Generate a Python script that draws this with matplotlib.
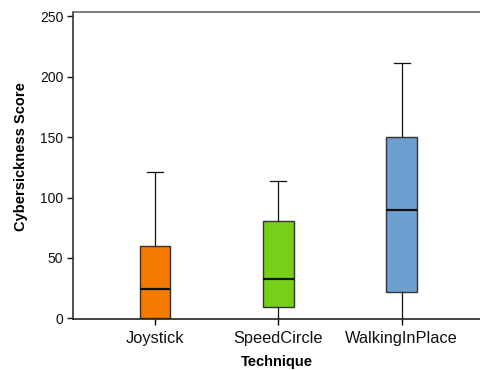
import matplotlib
matplotlib.use("Agg")
import matplotlib.pyplot as plt

plt.rcParams['font.family'] = ['Liberation Sans', 'DejaVu Sans']

categories = ["Joystick", "SpeedCircle", "WalkingInPlace"]
whisker_low = [0, 0, 0]
q1 = [0, 9.5, 21.5]
median = [24.5, 33, 89.5]
q3 = [60, 80.5, 150]
whisker_high = [121, 113.5, 211]
colors = ["#F47B00", "#76D017", "#6F9FD0"]
yticks = [0, 50, 100, 150, 200, 250]

fig = plt.figure(figsize=(4.8, 3.7), dpi=100)
ax = fig.add_axes([73/480, 1-319/370, 1-73/480, (319-12)/370])

stats = []
for i, c in enumerate(categories):
    stats.append(dict(label=c, whislo=whisker_low[i], q1=q1[i], med=median[i],
                      q3=q3[i], whishi=whisker_high[i], fliers=[]))

bp = ax.bxp(stats, positions=[1, 2, 3], widths=0.25, capwidths=0.13,
            patch_artist=True, showfliers=False,
            boxprops=dict(edgecolor="#333333", linewidth=1.0),
            medianprops=dict(color="#111111", linewidth=1.6),
            whiskerprops=dict(color="#111111", linewidth=0.9),
            capprops=dict(color="#111111", linewidth=0.9))
for patch, col in zip(bp['boxes'], colors):
    patch.set_facecolor(col)
for cap in bp['caps'][0::2]:
    cap.set_visible(False)

ax.set_xlim(0.335, 3.636)
ax.set_ylim(-0.5, 253.5)
ax.set_yticks(yticks)
ax.set_xticks([1, 2, 3])
ax.set_xticklabels(categories, fontsize=11.8, color="#111111")
ax.tick_params(axis='y', labelsize=10, colors="#111111", length=4, width=1, pad=3)
ax.tick_params(axis='x', length=4, width=1, pad=5)

ax.spines['right'].set_visible(False)
ax.spines['top'].set_color("#666666")
ax.spines['left'].set_color("#333333")
ax.spines['bottom'].set_color("#222222")
for s in ax.spines.values():
    s.set_linewidth(1.2)

ax.set_ylabel("Cybersickness Score", fontsize=10.5, fontweight='bold')
ax.yaxis.set_label_coords(-0.11, 0.53)
ax.set_xlabel("Technique", fontsize=10.5, fontweight='bold', labelpad=6)

fig.savefig("out.png", dpi=100)
